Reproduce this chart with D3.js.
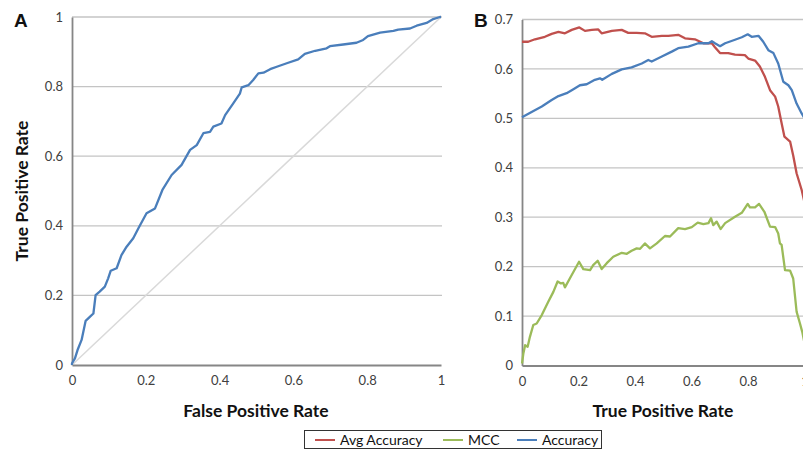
<!DOCTYPE html>
<html><head><meta charset="utf-8">
<script src="https://cdn.jsdelivr.net/npm/d3@7"></script>
<style>
body{margin:0;background:#fff;}
svg{display:block;}
text{font-family:Lato,"Open Sans",sans-serif;}
</style></head>
<body><svg id="c" width="803" height="451"></svg>
<script>
// Panel A: ROC curve (False Positive Rate, True Positive Rate)
const rocFPR = [0,0,0.008,0.015,0.026,0.037,0.049,0.058,0.064,0.075,0.089,0.098,0.105,0.121,0.134,0.148,0.166,0.180,0.202,0.225,0.245,0.270,0.297,0.320,0.338,0.356,0.374,0.383,0.405,0.415,0.437,0.455,0.460,0.478,0.491,0.505,0.519,0.537,0.555,0.582,0.613,0.631,0.659,0.690,0.699,0.735,0.771,0.789,0.802,0.835,0.871,0.884,0.916,0.934,0.961,0.979,0.997,1];
const rocTPR = [0,0.005,0.019,0.043,0.072,0.127,0.139,0.148,0.201,0.211,0.225,0.249,0.271,0.278,0.316,0.340,0.364,0.393,0.436,0.450,0.503,0.546,0.575,0.618,0.632,0.666,0.670,0.685,0.694,0.718,0.752,0.780,0.798,0.804,0.819,0.838,0.840,0.850,0.857,0.867,0.878,0.894,0.903,0.910,0.916,0.921,0.926,0.934,0.945,0.955,0.960,0.964,0.967,0.975,0.983,0.994,1.0,1.0];
const diagX = [0,1];
const diagY = [0,1];
const ticksA = [0,0.2,0.4,0.6,0.8,1];

// Panel B series (x = True Positive Rate)
const avgAccX = [0,0.022,0.046,0.081,0.105,0.129,0.152,0.176,0.203,0.223,0.247,0.270,0.282,0.318,0.353,0.376,0.406,0.435,0.459,0.495,0.518,0.553,0.577,0.612,0.642,0.672,0.683,0.701,0.730,0.754,0.789,0.801,0.825,0.842,0.860,0.878,0.896,0.907,0.919,0.929,0.949,0.960,0.972,0.990,1.0];
const avgAccY = [0.655,0.655,0.660,0.665,0.671,0.675,0.672,0.679,0.684,0.677,0.679,0.680,0.672,0.677,0.679,0.673,0.673,0.672,0.665,0.667,0.667,0.669,0.662,0.660,0.652,0.652,0.644,0.632,0.632,0.629,0.628,0.621,0.617,0.605,0.584,0.557,0.544,0.524,0.490,0.463,0.453,0.425,0.389,0.355,0.33];
const accX = [0,0.034,0.070,0.105,0.129,0.158,0.182,0.205,0.229,0.258,0.276,0.284,0.318,0.353,0.388,0.424,0.447,0.459,0.495,0.530,0.553,0.589,0.624,0.660,0.672,0.683,0.701,0.719,0.754,0.778,0.799,0.813,0.837,0.854,0.872,0.890,0.907,0.925,0.943,0.955,0.972,0.990,1.0];
const accY = [0.502,0.513,0.524,0.537,0.545,0.551,0.559,0.567,0.569,0.578,0.581,0.578,0.590,0.599,0.603,0.611,0.618,0.615,0.625,0.635,0.642,0.645,0.652,0.652,0.656,0.652,0.646,0.652,0.659,0.664,0.670,0.665,0.667,0.655,0.638,0.632,0.611,0.574,0.567,0.557,0.530,0.510,0.50];
const mccX = [0,0.005,0.011,0.020,0.028,0.040,0.052,0.070,0.093,0.111,0.126,0.138,0.146,0.152,0.176,0.202,0.217,0.241,0.252,0.268,0.282,0.300,0.323,0.353,0.371,0.388,0.406,0.418,0.435,0.453,0.477,0.506,0.524,0.553,0.577,0.601,0.622,0.642,0.660,0.669,0.677,0.689,0.703,0.719,0.754,0.778,0.799,0.807,0.825,0.839,0.858,0.878,0.896,0.907,0.913,0.919,0.931,0.949,0.960,0.972,0.984,0.992,1.0];
const mccY = [0.004,0.025,0.041,0.038,0.058,0.082,0.085,0.102,0.129,0.149,0.170,0.166,0.167,0.158,0.183,0.210,0.195,0.193,0.203,0.212,0.195,0.207,0.220,0.228,0.226,0.232,0.237,0.236,0.247,0.237,0.247,0.262,0.261,0.278,0.276,0.280,0.289,0.286,0.288,0.298,0.284,0.291,0.276,0.288,0.301,0.309,0.327,0.320,0.320,0.327,0.311,0.281,0.280,0.267,0.247,0.244,0.193,0.192,0.176,0.109,0.085,0.068,0.045];
const ticksBy = [0,0.1,0.2,0.3,0.4,0.5,0.6,0.7];
const ticksBx = [0,0.2,0.4,0.6,0.8,1];
const legendNames = ["Avg Accuracy","MCC","Accuracy"];
const colors = {avg:"#c0504d", mcc:"#9bbb59", acc:"#4a7ebb"};

const svg = d3.select("#c");
const gridCol = "#c4c4c4", axisCol = "#868686", textCol = "#404040";

function panel(xr, yr, ydom, yticks, xticks, yfmt){
  const x = d3.scaleLinear().domain([0,1]).range(xr);
  const y = d3.scaleLinear().domain(ydom).range(yr);
  const g = svg.append("g");
  g.selectAll(".grid").data(yticks.filter(d=>d>ydom[0])).enter().append("line")
    .attr("x1",xr[0]).attr("x2",xr[1]+1).attr("y1",d=>y(d)).attr("y2",d=>y(d))
    .attr("stroke",gridCol).attr("stroke-width",1.3);
  const ya = d3.axisLeft(y).tickValues(yticks).tickSize(0).tickPadding(9).tickFormat(yfmt);
  const yg = g.append("g").attr("transform",`translate(${xr[0]},0)`).call(ya);
  yg.select(".domain").attr("stroke",axisCol).attr("stroke-width",1.8);
  yg.selectAll("text").attr("fill",textCol).style("font-size","13px");
  const xa = d3.axisBottom(x).tickValues(xticks).tickSize(0).tickPadding(11).tickFormat(d3.format("~g"));
  const xg = g.append("g").attr("transform",`translate(0,${yr[0]})`).call(xa);
  xg.select(".domain").attr("stroke",axisCol).attr("stroke-width",1.8);
  xg.selectAll("text").attr("fill",textCol).style("font-size","13px");
  return {x,y,g};
}

const A = panel([72,441],[365,17],[0,1],ticksA,ticksA,d3.format("~g"));
const lineA = d3.line().x(d=>A.x(d[0])).y(d=>A.y(d[1]));
A.g.append("path").datum(d3.zip(diagX,diagY)).attr("d",lineA).attr("fill","none").attr("stroke","#d9d9d9").attr("stroke-width",1.5);
A.g.append("path").datum(d3.zip(rocFPR,rocTPR)).attr("d",lineA).attr("fill","none").attr("stroke",colors.acc).attr("stroke-width",2.3).attr("stroke-linejoin","round");

const B = panel([522,804.5],[365.5,19.5],[0,0.7],ticksBy,ticksBx,d3.format("~g"));
const lineB = d3.line().x(d=>B.x(d[0])).y(d=>B.y(d[1]));
[[avgAccX,avgAccY,colors.avg],[mccX,mccY,colors.mcc],[accX,accY,colors.acc]].forEach(s=>{
  B.g.append("path").datum(d3.zip(s[0],s[1])).attr("d",lineB).attr("fill","none").attr("stroke",s[2]).attr("stroke-width",2.3).attr("stroke-linejoin","round");
});

// panel letters
svg.append("text").attr("x",14).attr("y",27).text("A").style("font-family","'Liberation Sans',Arial,sans-serif").style("font-weight","bold").style("font-size","19px").attr("fill","#111");
svg.append("text").attr("x",474).attr("y",27).text("B").style("font-family","'Liberation Sans',Arial,sans-serif").style("font-weight","bold").style("font-size","19px").attr("fill","#111");

// axis titles
const tstyle = s=>s.style("font-weight","bold").style("font-size","17.5px").attr("fill","#111").attr("text-anchor","middle");
svg.append("text").attr("x",256).attr("y",417).text("False Positive Rate").call(tstyle);
svg.append("text").attr("x",663).attr("y",417).text("True Positive Rate").call(tstyle);
svg.append("text").attr("transform","translate(28,191) rotate(-90)").text("True Positive Rate").call(tstyle);

// legend
const lg = svg.append("g");
lg.append("rect").attr("x",304.5).attr("y",430.5).attr("width",297).attr("height",18).attr("fill","#fff").attr("stroke","#333").attr("stroke-width",1);
const legendX = [315,443,517];
const legendCols = [colors.avg,colors.mcc,colors.acc];
legendNames.forEach((n,i)=>{
  lg.append("line").attr("x1",legendX[i]).attr("x2",legendX[i]+20).attr("y1",440).attr("y2",440).attr("stroke",legendCols[i]).attr("stroke-width",2);
  lg.append("text").attr("x",legendX[i]+25).attr("y",445).text(n).style("font-size","14px").attr("fill","#111");
});
</script></body></html>
